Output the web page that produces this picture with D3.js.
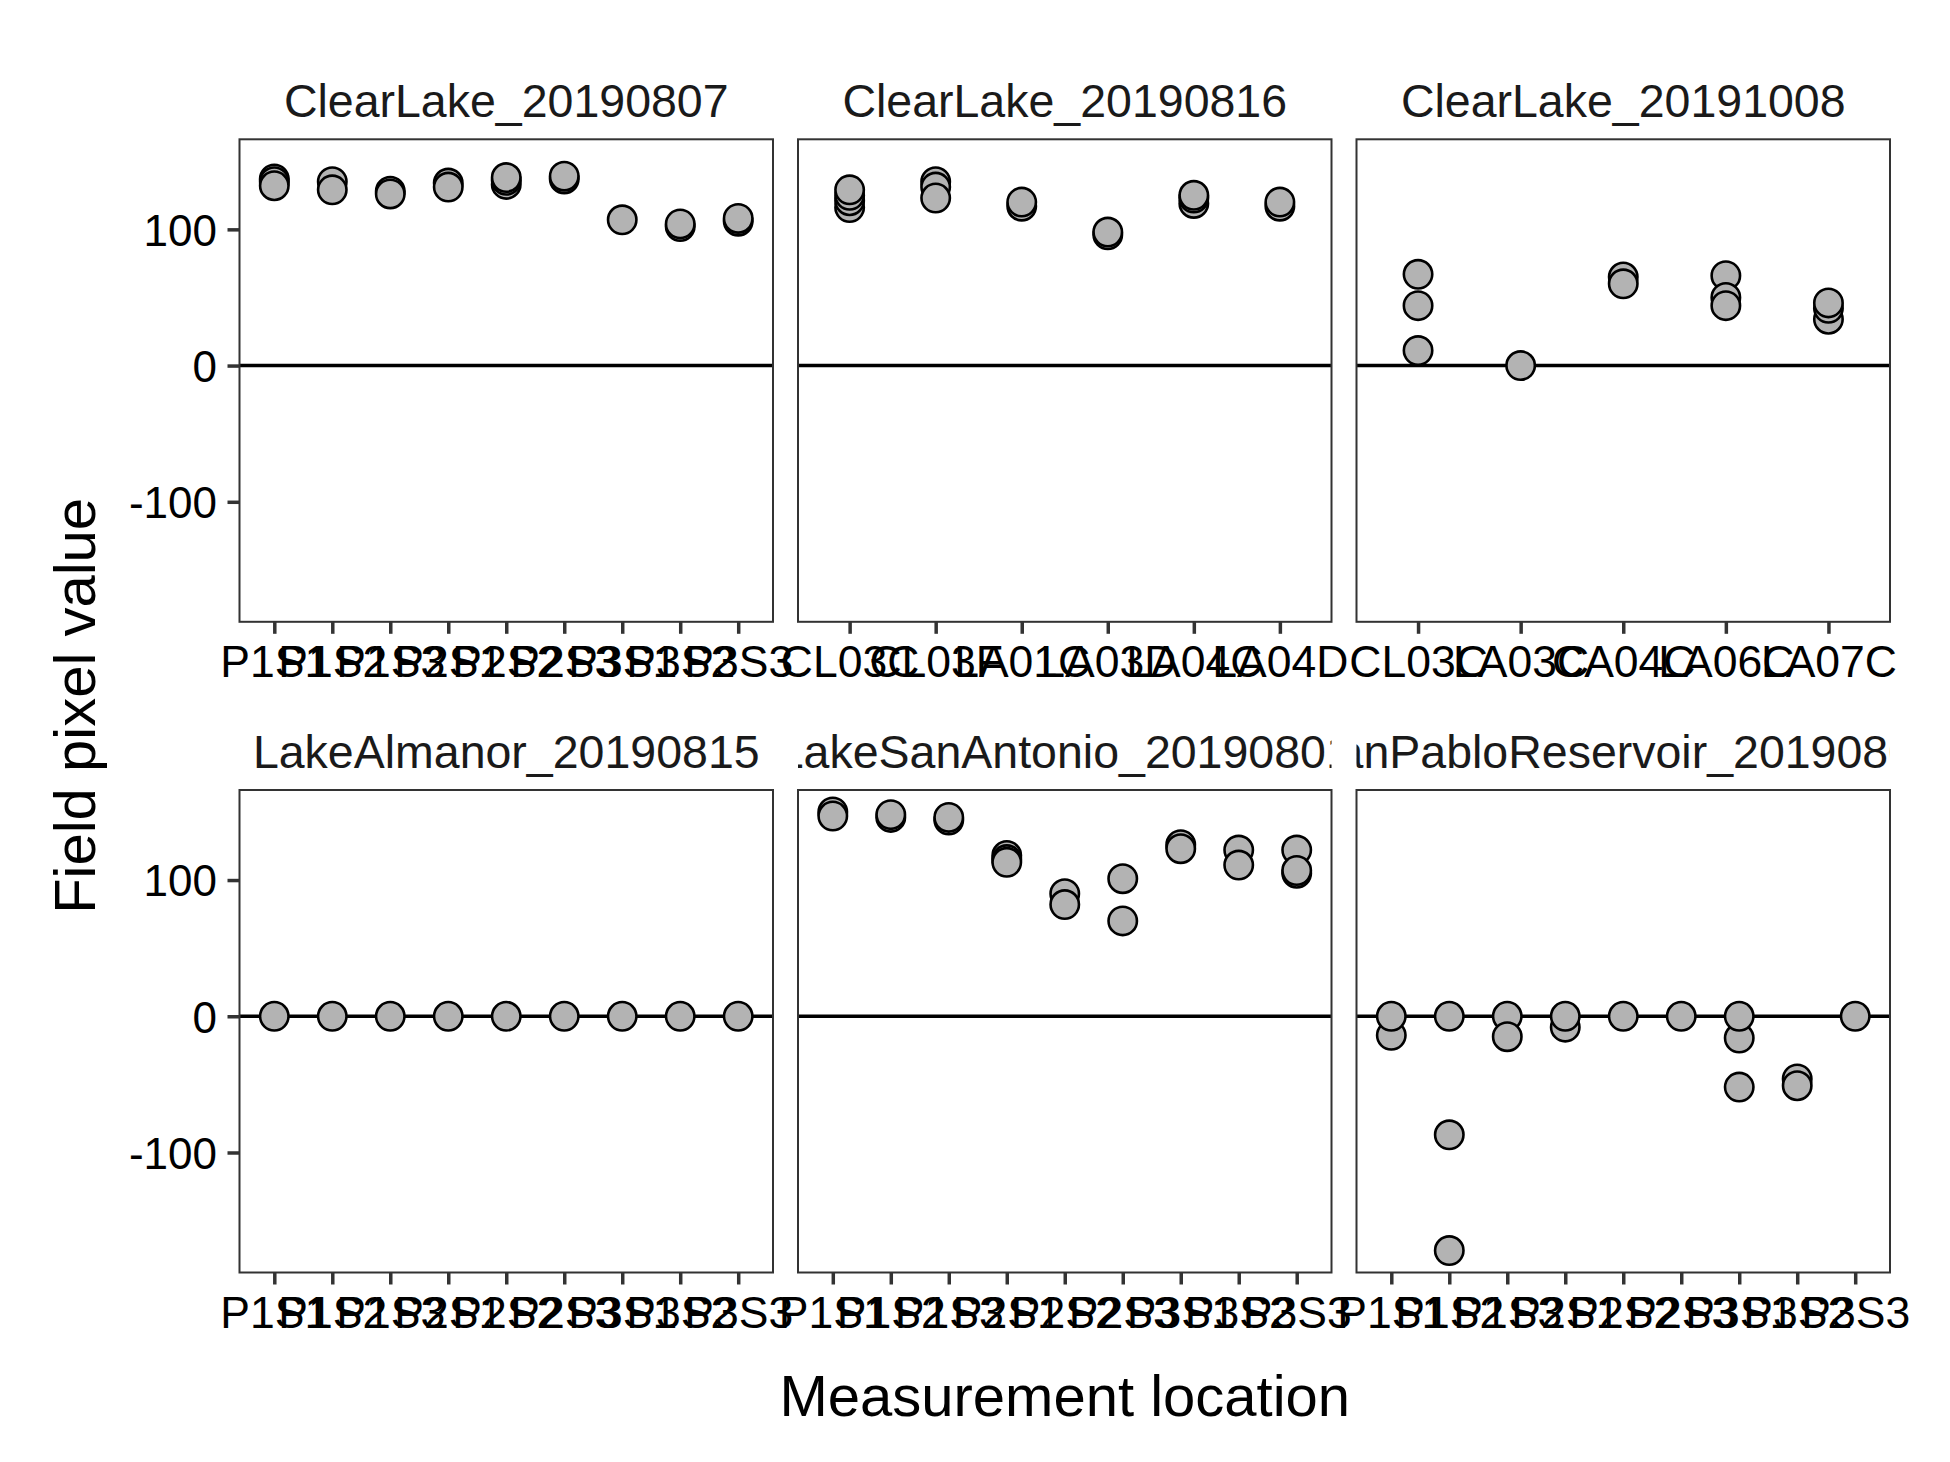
<!DOCTYPE html>
<html><head><meta charset="utf-8">
<script src="https://cdn.jsdelivr.net/npm/d3@7"></script>
<style>body{margin:0;background:#fff}</style>
</head><body>
<svg id="chart" width="1950" height="1462" xmlns="http://www.w3.org/2000/svg"></svg>
<script>
// ---------------- data ----------------
const facetNames = ["ClearLake_20190807", "ClearLake_20190816", "ClearLake_20191008",
                    "LakeAlmanor_20190815", "LakeSanAntonio_20190801", "SanPabloReservoir_20190808"];
const locationsP = ["P1S1","P1S2","P1S3","P2S1","P2S2","P2S3","P3S1","P3S2","P3S3"];
const locationsCL0816 = ["CL03C","CL03F","LA01C","LA03D","LA04C","LA04D"];
const locationsCL1008 = ["CL03C","LA03C","CA04C","LA06C","LA07C"];
// values per location (listed in drawing order)
const valuesCL0807 = [[137,135,132],[135,129],[128,126],[134,131],[133,136,138],[137,139],[107],[102,104],[106,108]];
const valuesCL0816 = [[116,121,125,129],[135,131,123],[117,120],[96,98],[119,123,125],[117,120]];
const valuesCL1008 = [[67,44,11],[0],[65,60],[66,50,44],[34,42,46]];
const valuesLA0815 = [[0],[0],[0],[0],[0],[0],[0],[0],[0]];
const valuesLSA0801 = [[150,147],[146,148],[144,146],[118,115,113],[90,82],[101,70],[126,123],[122,111],[122,105,107]];
const valuesSP0808 = [[-14,0],[0,-87,-172],[0,-15],[-8,0],[0],[0],[-16,0,-52],[-46,-51],[0]];
const yTickValues = [-100, 0, 100];
const yTickLabels = ["-100", "0", "100"];
const xTitle = "Measurement location";
const yTitle = "Field pixel value";

const facetCats = [locationsP, locationsCL0816, locationsCL1008, locationsP, locationsP, locationsP];
const facetVals = [valuesCL0807, valuesCL0816, valuesCL1008, valuesLA0815, valuesLSA0801, valuesSP0808];

// long table
const table = [];
facetNames.forEach((f, fi) => {
  facetCats[fi].forEach((c, ci) => {
    facetVals[fi][ci].forEach(v => table.push({facet: f, fi, loc: c, value: v}));
  });
});

// ---------------- layout ----------------
const svg = d3.select("#chart");
const panelW = 533.5, panelH = 482.5;
const colX = [239.5, 798, 1356.5];
const rowY = [139.3, 790];
const font = "'Liberation Sans', Arial, Helvetica, sans-serif";

const ext = d3.extent(table, d => d.value);
const pad = (ext[1] - ext[0]) * 0.05;
const yDomain = [ext[0] - pad, ext[1] + pad];

const defs = svg.append("defs");

facetNames.forEach((name, fi) => {
  const col = fi % 3, row = Math.floor(fi / 3);
  const x0 = colX[col], y0 = rowY[row];
  const x = d3.scalePoint().domain(facetCats[fi]).range([x0, x0 + panelW]).padding(0.6);
  const y = d3.scaleLinear().domain(yDomain).range([y0 + panelH, y0]);
  const g = svg.append("g");

  // strip label (clipped to panel width)
  defs.append("clipPath").attr("id", "clip" + fi)
    .append("rect").attr("x", x0).attr("y", y0 - 80).attr("width", panelW).attr("height", 80);
  g.append("text")
    .attr("clip-path", "url(#clip" + fi + ")")
    .attr("x", x0 + panelW / 2).attr("y", y0 - 22)
    .attr("text-anchor", "middle")
    .attr("font-family", font).attr("font-size", 46.5).attr("fill", "#1a1a1a")
    .text(name);

  // zero line
  g.append("line")
    .attr("x1", x0).attr("x2", x0 + panelW)
    .attr("y1", y(0)).attr("y2", y(0))
    .attr("stroke", "#000").attr("stroke-width", 3.5);

  // points
  g.selectAll("circle.pt").data(table.filter(d => d.fi === fi)).enter()
    .append("circle").attr("class", "pt")
    .attr("cx", d => x(d.loc)).attr("cy", d => y(d.value))
    .attr("r", 14.2)
    .attr("fill", "#b3b3b3").attr("stroke", "#000").attr("stroke-width", 2.6);

  // border
  g.append("rect").attr("x", x0).attr("y", y0).attr("width", panelW).attr("height", panelH)
    .attr("fill", "none").attr("stroke", "#333333").attr("stroke-width", 2);

  // x axis
  const xa = g.append("g").attr("transform", `translate(0,${y0 + panelH})`)
    .call(d3.axisBottom(x).tickSize(12).tickPadding(10));
  xa.select(".domain").remove();
  xa.selectAll(".tick line").attr("stroke", "#333333").attr("stroke-width", 3.5);
  xa.selectAll(".tick text").attr("y", 55).attr("dy", null)
    .attr("font-family", font).attr("font-size", 44.5).attr("fill", "#000");

  // y axis on left column
  if (col === 0) {
    const ya = g.append("g").attr("transform", `translate(${x0},0)`)
      .call(d3.axisLeft(y).tickValues(yTickValues).tickSize(12).tickPadding(10.5)
        .tickFormat((d, i) => yTickLabels[i]));
    ya.select(".domain").remove();
    ya.selectAll(".tick line").attr("stroke", "#333333").attr("stroke-width", 3.5);
    ya.selectAll(".tick text").attr("dy", "0.36em")
      .attr("font-family", font).attr("font-size", 44).attr("fill", "#000");
  }
});

// axis titles
svg.append("text")
  .attr("x", colX[0] + (colX[2] + panelW - colX[0]) / 2).attr("y", 1416)
  .attr("text-anchor", "middle").attr("font-family", font).attr("font-size", 58).attr("fill", "#000")
  .text(xTitle);
svg.append("text")
  .attr("transform", `translate(94.5,${(rowY[0] + rowY[1] + panelH) / 2}) rotate(-90)`)
  .attr("text-anchor", "middle").attr("font-family", font).attr("font-size", 58).attr("fill", "#000")
  .text(yTitle);
</script>
</body></html>
